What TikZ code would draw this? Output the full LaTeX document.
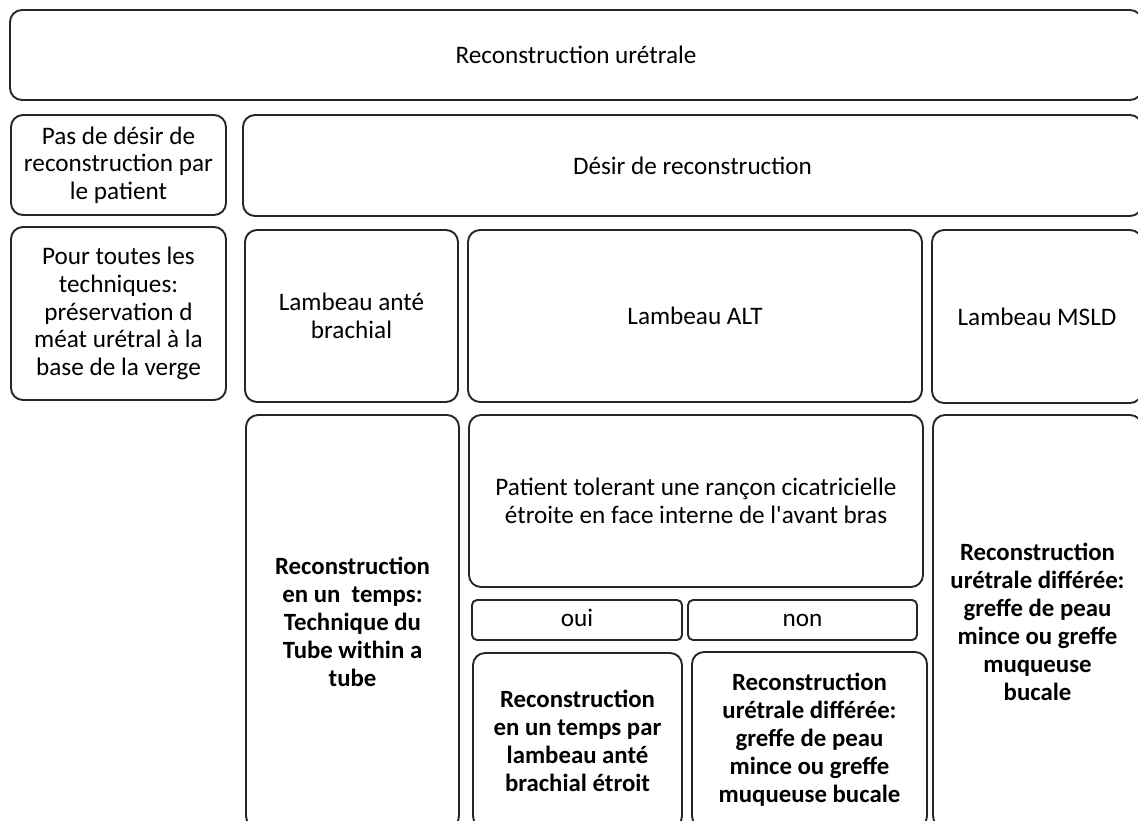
\documentclass[tikz,border=0pt]{standalone}
\usepackage{fontspec}
\setmainfont{Carlito}[Ligatures=TeXOff]
\begin{document}
\begin{tikzpicture}[x=0.5pt,y=-0.5pt,
  box/.style={draw=black!85, line width=0.95pt, rounded corners=6pt, inner sep=0pt, align=center,
    font=\fontsize{12.6}{13.8}\selectfont},
  bbox/.style={box, font=\fontsize{12.4}{14}\selectfont\bfseries},
  sbox/.style={draw=black!85, line width=0.95pt, rounded corners=2.5pt, inner sep=0pt,
    font=\fontsize{12.6}{13.8}\selectfont, text height=1.6ex, text depth=0.25ex}]
\useasboundingbox (0,0) rectangle (1138,820);
\clip (0,0) rectangle (1138,820);
% helper: node by corners
\newcommand\bx[7]{\node[#1, minimum width={(#5-#3)*0.5pt}, minimum height={(#6-#4)*0.5pt}] (#2) at ({(#3+#5)/2},{(#4+#6)/2}) {#7};}
\bx{box}{top}{10}{10}{1142}{100}{Reconstruction urétrale}
\bx{box}{pas}{11}{115}{226}{215}{Pas de désir de\\reconstruction par\\le patient}
\bx{box}{desir}{243}{115}{1142}{216}{Désir de reconstruction}
\bx{box}{pour}{11}{227}{226}{400}{Pour toutes les\\techniques:\\préservation d\\méat urétral à la\\base de la verge}
\bx{box}{anteb}{245}{230}{458}{402}{Lambeau anté\\brachial}
\bx{box}{alt}{468}{230}{922}{402}{Lambeau ALT}
\bx{box}{msld}{932}{230}{1142}{403}{Lambeau MSLD}
\bx{bbox}{tube}{246}{415}{459}{828}{Reconstruction\\en un\ \ temps:\\Technique du\\Tube within a\\tube}
\bx{box}{patient}{469}{415}{923}{587}{Patient tolerant une rançon cicatricielle\\étroite en face interne de l'avant bras}
\bx{sbox}{oui}{472}{600}{682}{640}{oui}
\bx{sbox}{non}{688}{600}{917}{640}{non}
\bx{bbox}{etroit}{473}{653}{682}{828}{Reconstruction\\en un temps par\\lambeau anté\\brachial étroit}
\bx{bbox}{differee}{692}{652}{927}{828}{Reconstruction\\urétrale différée:\\greffe de peau\\mince ou greffe\\muqueuse bucale}
\bx{bbox}{right}{933}{415}{1142}{828}{Reconstruction\\urétrale différée:\\greffe de peau\\mince ou greffe\\muqueuse\\bucale}
\end{tikzpicture}
\end{document}
